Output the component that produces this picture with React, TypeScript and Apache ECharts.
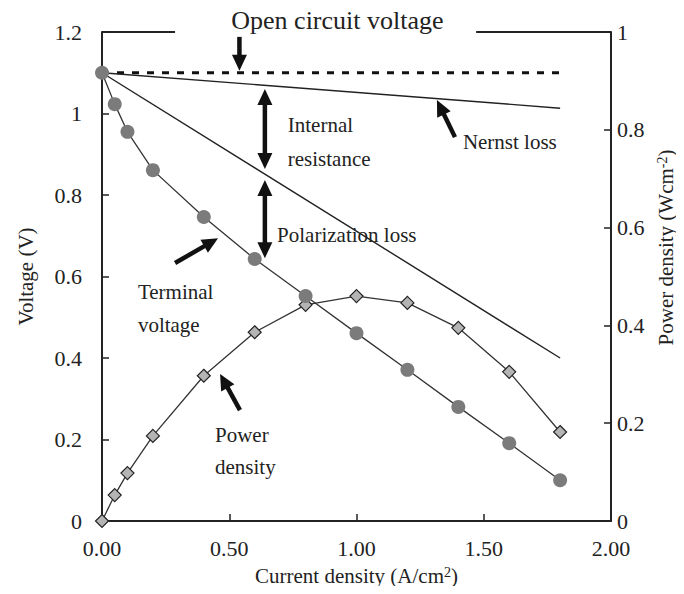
import React, { useEffect, useRef } from "react";
import * as echarts from "echarts";

// Current density (A/cm2) at each measured point
const currentDensity = [0, 0.05, 0.1, 0.2, 0.4, 0.6, 0.8, 1.0, 1.2, 1.4, 1.6, 1.8];
// Terminal voltage (V)
const terminalVoltage = [1.1, 1.023, 0.955, 0.861, 0.746, 0.643, 0.552, 0.461, 0.371, 0.28, 0.191, 0.1];
// Power density (W/cm2)
const powerDensity = [0, 0.053, 0.098, 0.174, 0.297, 0.386, 0.442, 0.46, 0.446, 0.395, 0.305, 0.182];

// Reference lines
const ocvCurrent = [0, 1.8];
const ocvVoltage = [1.1, 1.1];
const nernstCurrent = [0, 1.8];
const nernstVoltage = [1.1, 1.013];
const ohmicCurrent = [0, 1.8];
const ohmicVoltage = [1.1, 0.4];

const xTickLabels = ["0.00", "0.50", "1.00", "1.50", "2.00"];

const SERIF = '"Liberation Serif", "Times New Roman", serif';
const INK = "#222";

type Pt = [number, number];

// Annotation arrows in (current density, voltage) coordinates
const arrows: { from: Pt; to: Pt; double?: boolean }[] = [
  { from: [0.54, 1.188], to: [0.54, 1.105] },
  { from: [0.64, 1.06], to: [0.64, 0.864], double: true },
  { from: [0.64, 0.837], to: [0.64, 0.645], double: true },
  { from: [1.387, 0.942], to: [1.316, 1.033] },
  { from: [0.287, 0.633], to: [0.456, 0.694] },
  { from: [0.542, 0.272], to: [0.464, 0.361] },
];

// Annotation labels (left-aligned) in (current density, voltage) coordinates
const notes: { text: string; at: Pt }[] = [
  { text: "Internal", at: [0.73, 0.972] },
  { text: "resistance", at: [0.73, 0.888] },
  { text: "Polarization loss", at: [0.688, 0.701] },
  { text: "Nernst loss", at: [1.418, 0.930] },
  { text: "Terminal", at: [0.141, 0.562] },
  { text: "voltage", at: [0.141, 0.481] },
  { text: "Power", at: [0.444, 0.211] },
  { text: "density", at: [0.444, 0.133] },
];

const zip = (xs: number[], ys: number[]) => xs.map((x, i) => [x, ys[i]]);

function arrowElements(p0: number[], p1: number[], double: boolean) {
  const headLen = 16;
  const headW = 15;
  const dx = p1[0] - p0[0];
  const dy = p1[1] - p0[1];
  const len = Math.hypot(dx, dy);
  const ux = dx / len;
  const uy = dy / len;
  const px = -uy;
  const py = ux;
  const head = (tip: number[], sx: number, sy: number) => ({
    type: "polygon",
    silent: true,
    shape: {
      points: [
        [tip[0], tip[1]],
        [tip[0] - sx * headLen + px * headW / 2, tip[1] - sy * headLen + py * headW / 2],
        [tip[0] - sx * headLen - px * headW / 2, tip[1] - sy * headLen - py * headW / 2],
      ],
    },
    style: { fill: "#111" },
  });
  const start = double ? [p0[0] + ux * headLen * 0.8, p0[1] + uy * headLen * 0.8] : p0;
  const end = [p1[0] - ux * headLen * 0.8, p1[1] - uy * headLen * 0.8];
  const els: any[] = [
    {
      type: "line",
      silent: true,
      shape: { x1: start[0], y1: start[1], x2: end[0], y2: end[1] },
      style: { stroke: "#111", lineWidth: 4.5 },
    },
    head(p1, ux, uy),
  ];
  if (double) els.push(head(p0, -ux, -uy));
  return els;
}

export default function App() {
  const ref = useRef<HTMLDivElement>(null);

  useEffect(() => {
    if (!ref.current) return;
    const chart = echarts.init(ref.current, null, { renderer: "svg" });

    const axisLine = { show: true, lineStyle: { color: INK, width: 2 } };
    const axisTick = { show: true, inside: true, length: 7, lineStyle: { color: INK, width: 1.5 } };
    const tickLabel = { fontFamily: SERIF, fontSize: 22, color: INK };

    chart.setOption({
      animation: false,
      backgroundColor: "#fff",
      grid: { left: 102, right: 73, top: 32, bottom: 73, containLabel: false },
      xAxis: {
        type: "value",
        min: 0,
        max: 2,
        interval: 0.5,
        axisLine: { ...axisLine, onZero: false },
        axisTick,
        splitLine: { show: false },
        axisLabel: {
          ...tickLabel,
          margin: 16,
          formatter: (v: number) => xTickLabels[Math.round(v / 0.5)] ?? v.toFixed(2),
        },
        name: "{n|Current density (A/cm}{s|2}{n|)}",
        nameLocation: "middle",
        nameGap: 44,
        nameTextStyle: {
          rich: {
            n: { fontFamily: SERIF, fontSize: 21, color: INK },
            s: { fontFamily: SERIF, fontSize: 14, color: INK, padding: [0, 0, 8, 0] },
          },
        },
      },
      yAxis: [
        {
          type: "value",
          min: 0,
          max: 1.2,
          interval: 0.2,
          position: "left",
          axisLine,
          axisTick,
          splitLine: { show: false },
          axisLabel: { ...tickLabel, margin: 20 },
          name: "Voltage (V)",
          nameLocation: "middle",
          nameGap: 66,
          nameTextStyle: { fontFamily: SERIF, fontSize: 21, color: INK },
        },
        {
          type: "value",
          min: 0,
          max: 1,
          interval: 0.2,
          position: "right",
          axisLine,
          axisTick,
          splitLine: { show: false },
          axisLabel: { ...tickLabel, margin: 6 },
        },
      ],
      series: [
        {
          name: "Open circuit voltage",
          type: "line",
          data: zip(ocvCurrent, ocvVoltage),
          symbol: "none",
          silent: true,
          lineStyle: { color: "#111", width: 3, type: [7, 8] },
          z: 2,
        },
        {
          name: "Nernst loss",
          type: "line",
          data: zip(nernstCurrent, nernstVoltage),
          symbol: "none",
          silent: true,
          lineStyle: { color: INK, width: 1.4 },
          z: 2,
        },
        {
          name: "Internal resistance",
          type: "line",
          data: zip(ohmicCurrent, ohmicVoltage),
          symbol: "none",
          silent: true,
          lineStyle: { color: INK, width: 1.4 },
          z: 2,
        },
        {
          name: "Power density",
          type: "line",
          yAxisIndex: 1,
          data: zip(currentDensity, powerDensity),
          symbol: "diamond",
          symbolSize: 13,
          silent: true,
          lineStyle: { color: "#333", width: 1.3 },
          itemStyle: { color: "#b4b4b4", borderColor: "#222", borderWidth: 1.2 },
          z: 3,
        },
        {
          name: "Terminal voltage",
          type: "line",
          yAxisIndex: 0,
          data: zip(currentDensity, terminalVoltage),
          symbol: "circle",
          symbolSize: 14,
          silent: true,
          lineStyle: { color: "#333", width: 1.3 },
          itemStyle: { color: "#7b7b7b", borderWidth: 0 },
          z: 4,
        },
      ],
    });

    const toPx = (p: Pt) => chart.convertToPixel({ seriesIndex: 4 }, p) as number[];

    const topLeft = toPx([0, 1.2]);
    const topRight = toPx([2, 1.2]);
    const gapLeft = toPx([0.287, 1.2]);
    const gapRight = toPx([1.47, 1.2]);
    const titleAt = toPx([0.925, 1.2]);
    const bottom = toPx([0, 0]);

    const graphics: any[] = [
      {
        type: "line",
        silent: true,
        shape: { x1: topLeft[0], y1: topLeft[1], x2: gapLeft[0], y2: gapLeft[1] },
        style: { stroke: INK, lineWidth: 2 },
      },
      {
        type: "line",
        silent: true,
        shape: { x1: gapRight[0], y1: gapRight[1], x2: topRight[0], y2: topRight[1] },
        style: { stroke: INK, lineWidth: 2 },
      },
      {
        type: "text",
        silent: true,
        x: titleAt[0],
        y: titleAt[1] - 12,
        style: {
          text: "Open circuit voltage",
          fontFamily: SERIF,
          fontSize: 26,
          fill: INK,
          align: "center",
          verticalAlign: "middle",
          textAlign: "center",
          textVerticalAlign: "middle",
        },
      },
      {
        type: "text",
        silent: true,
        x: topRight[0] + 55,
        y: (topRight[1] + bottom[1]) / 2 - 29,
        rotation: Math.PI / 2,
        style: {
          text: "{n|Power density (Wcm}{s|-2}{n|)}",
          align: "center",
          verticalAlign: "middle",
          textAlign: "center",
          textVerticalAlign: "middle",
          rich: {
            n: { fontFamily: SERIF, fontSize: 21, fill: INK },
            s: { fontFamily: SERIF, fontSize: 14, fill: INK, padding: [0, 0, 8, 0] },
          },
        },
      },
    ];

    notes.forEach((n) => {
      const p = toPx(n.at);
      graphics.push({
        type: "text",
        silent: true,
        x: p[0],
        y: p[1],
        style: {
          text: n.text,
          fontFamily: SERIF,
          fontSize: 21,
          fill: INK,
          align: "left",
          verticalAlign: "middle",
          textAlign: "left",
          textVerticalAlign: "middle",
        },
      });
    });

    arrows.forEach((a) => {
      graphics.push(...arrowElements(toPx(a.from), toPx(a.to), !!a.double));
    });

    chart.setOption({ graphic: graphics });

    return () => chart.dispose();
  }, []);

  return <div ref={ref} style={{ width: 684, height: 594, margin: -8 }} />;
}
